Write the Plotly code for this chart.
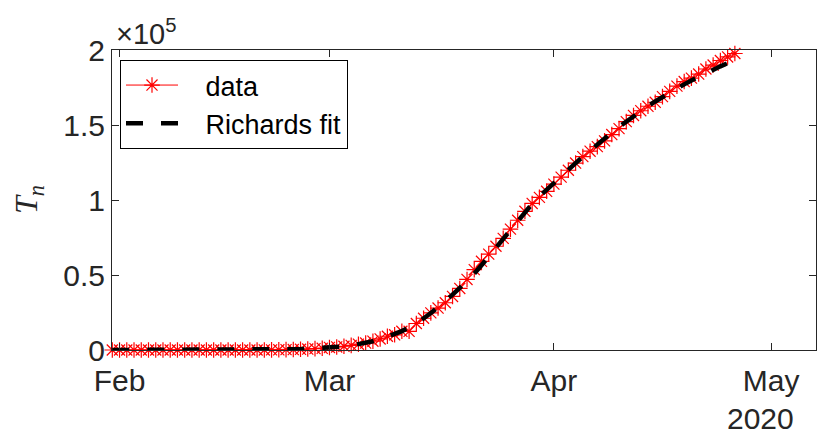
import pandas as pd
import plotly.graph_objects as go

start_date = "2020-01-31"

cases = [2,
         2, 2, 2, 2, 2, 2, 3, 3, 3, 3, 3, 3, 3, 3, 3, 3, 3, 3, 3, 3,
         20, 62, 155, 229, 322, 453, 655, 888, 1128,
         1694, 2036, 2502, 3089, 3858, 4636, 5883, 7375, 9172, 10149,
         12462, 12462, 17660, 21157, 24747, 27980, 31506, 35713, 41035, 47021,
         53578, 59138, 63927, 69176, 74386, 80589, 86498, 92472, 97689, 101739, 105792,
         110574, 115242, 119827, 124632, 128948, 132547, 135586, 139422, 143626, 147577,
         152271, 156363, 159516, 162488, 165155, 168941, 172434, 175925, 178972, 181228,
         183957, 187327, 189973, 192994, 195351, 197675]

fit = [2,
       2, 3, 4, 5, 6, 7, 9, 11, 14, 17, 22, 27, 34, 42, 53, 66, 82, 103, 130, 160,
       200, 250, 315, 395, 490, 615, 770, 960, 1200,
       1500, 1900, 2400, 3000, 3800, 4700, 5800, 7100, 8700, 10500,
       12600, 15000, 17800, 21000, 24600, 28500, 32600, 36900, 41400, 46000,
       51000, 56500, 62500, 68500, 74500, 80500, 86500, 92200, 97500, 102400, 107000,
       111400, 115800, 120200, 124600, 128900, 133100, 137200, 141200, 145000, 148800,
       152400, 155900, 159300, 162600, 165700, 168700, 171600, 174400, 177100, 179700,
       182200, 184600, 186900, 189100, 191200, 193200]

y_ticks = [0, 50000, 100000, 150000, 200000]
y_tick_labels = ["0", "0.5", "1", "1.5", "2"]
x_ticks = ["2020-02-01", "2020-03-01", "2020-04-01", "2020-05-01"]
x_tick_labels = ["Feb", "Mar", "Apr", "May"]

dates = pd.date_range(start_date, periods=len(cases), freq="D")

pad = "&nbsp;&nbsp;&nbsp;"

fig = go.Figure()
fig.add_trace(go.Scatter(
    x=dates, y=cases, mode="lines+markers", name=pad + "data",
    line=dict(color="#ff0000", width=1),
    marker=dict(symbol="asterisk-open", size=13, color="#ff0000",
                line=dict(color="rgba(255,0,0,0.8)", width=1.2)),
    cliponaxis=False,
))
fig.add_trace(go.Scatter(
    x=dates, y=fit, mode="lines", name=pad + "Richards fit",
    line=dict(color="#000000", width=4.5, dash="17px,18px"),
    cliponaxis=False,
))

axis_col = "#262626"
font_fam = "Liberation Sans, Arial, sans-serif"

fig.update_layout(
    template="none",
    width=817, height=441,
    margin=dict(l=112, r=1, t=50, b=91, pad=0),
    paper_bgcolor="white", plot_bgcolor="white",
    font=dict(family=font_fam, size=30, color=axis_col),
    showlegend=True,
    legend=dict(x=8/704, y=1 - 10/300, xanchor="left", yanchor="top",
                bgcolor="white", bordercolor="#000000", borderwidth=1,
                font=dict(size=27, color="#000000", family=font_fam),
                tracegroupgap=0, itemwidth=52),
    xaxis=dict(
        range=["2020-01-30 23:00", "2020-05-07 05:00"],
        tickvals=x_ticks, ticktext=x_tick_labels,
        ticks="inside", ticklen=7, tickcolor=axis_col, tickwidth=1,
        showline=True, linecolor=axis_col, linewidth=1, mirror="ticks",
        showgrid=False, zeroline=False, automargin=False,
        ticklabelstandoff=4,
        tickfont=dict(size=30, color=axis_col),
    ),
    yaxis=dict(
        range=[0, 200000],
        tickvals=y_ticks, ticktext=y_tick_labels,
        ticks="inside", ticklen=7, tickcolor=axis_col, tickwidth=1,
        showline=True, linecolor=axis_col, linewidth=1, mirror="ticks",
        showgrid=False, zeroline=False, automargin=False,
        tickfont=dict(size=30, color=axis_col),
    ),
    annotations=[
        dict(text="×10<sup>5</sup>", xref="paper", yref="paper",
             x=0.0, y=1.0, xanchor="left", yanchor="bottom",
             xshift=2, yshift=-2, showarrow=False,
             font=dict(size=29, color=axis_col, family=font_fam)),
        dict(text="2020", xref="x", yref="paper",
             x="2020-04-29 12:00", y=0, xanchor="center", yanchor="top",
             yshift=-50, showarrow=False,
             font=dict(size=30, color=axis_col, family=font_fam)),
        dict(text="<i>T</i><sub><i>n</i></sub>", xref="paper", yref="paper",
             x=-84/704, y=(350-200)/300, xanchor="center", yanchor="middle",
             textangle=-90, showarrow=False,
             font=dict(size=32, color=axis_col, family="Liberation Serif, DejaVu Serif, serif")),
    ],
)

fig.write_html(
    "out.html",
    config={"responsive": False, "displayModeBar": False},
    post_script="document.body.style.margin='0';document.body.style.overflow='hidden';",
)
